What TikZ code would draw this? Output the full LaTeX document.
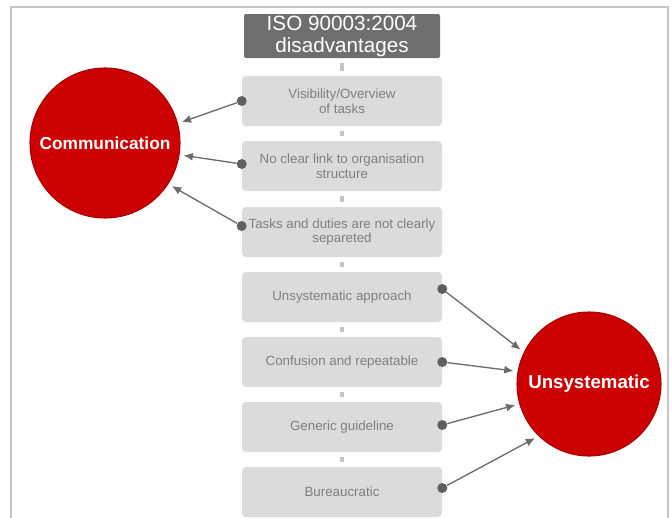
\documentclass[tikz,border=0pt]{standalone}
\usepackage{fontspec}
\setmainfont{Liberation Sans}
\usetikzlibrary{arrows.meta}

\definecolor{titlegray}{HTML}{6E6E6E}
\definecolor{boxgray}{HTML}{DBDBDB}
\definecolor{textgray}{HTML}{7F7F7F}
\definecolor{linkgray}{HTML}{C4C4C4}
\definecolor{dotgray}{HTML}{5F5F5F}
\definecolor{arrgray}{HTML}{6B6B6B}
\definecolor{bubblered}{HTML}{CC0000}
\definecolor{bubbleedge}{HTML}{A50000}
\definecolor{framegray}{HTML}{C4C4C4}

\tikzset{
  titlebox/.style={fill=titlegray, text=white, rounded corners=1.5pt, minimum width=147pt,
    minimum height=33pt, inner sep=0pt, align=center, font=\fontsize{15.5}{16.5}\selectfont},
  taskbox/.style={fill=boxgray, text=textgray, rounded corners=3pt, minimum width=150pt,
    minimum height=37.5pt, inner sep=0pt, align=center, font=\fontsize{10}{11}\selectfont},
  link/.style={draw=linkgray, line width=3.5pt, shorten <=3.9pt, shorten >=3.9pt},
  dot/.style={circle, fill=dotgray, inner sep=0pt, minimum size=7.5pt},
  arr/.style={draw=arrgray, line width=1pt, -{Latex[length=7pt,width=6pt]}, shorten >=3pt},
  bubble/.style={circle, fill=bubblered, draw=bubbleedge, line width=0.8pt, text=white,
    font=\bfseries, inner sep=0pt}
}

\begin{document}
\begin{tikzpicture}[x=0.75pt, y=-0.75pt]
    \useasboundingbox (0,0) rectangle (672,518);
    \draw[framegray, line width=1pt] (11,518) -- (11,7) -- (668,7) -- (668,518);

    % title and the task boxes
    \node[titlebox] (t) at (342,36) {ISO 90003:2004\\disadvantages};
    \node[taskbox] (b1) at (342,101) {Visibility/Overview\\of tasks};
    \node[taskbox] (b2) at (342,166) {No clear link to organisation\\structure};
    \node[taskbox] (b3) at (342,232) {Tasks and duties are not clearly\\separeted};
    \node[taskbox] (b4) at (342,297) {Unsystematic approach};
    \node[taskbox] (b5) at (342,362) {Confusion and repeatable};
    \node[taskbox] (b6) at (342,427) {Generic guideline};
    \node[taskbox] (b7) at (342,492) {Bureaucratic};

    \draw[link] (t) -- (b1);
    \draw[link] (b1) -- (b2);
    \draw[link] (b2) -- (b3);
    \draw[link] (b3) -- (b4);
    \draw[link] (b4) -- (b5);
    \draw[link] (b5) -- (b6);
    \draw[link] (b6) -- (b7);

    % the two bubbles
    \node[bubble, minimum size=112.5pt, font=\bfseries\fontsize{13}{15}\selectfont] (comm) at (105,143) {Communication};
    \node[bubble, minimum size=108pt, font=\bfseries\fontsize{14}{16}\selectfont] (unsys) at (589,384) {Unsystematic};

    \node[dot] (d1) at (b1.west) {};
    \node[dot] (d2) at ([yshift=1.5pt]b2.west) {};
    \node[dot] (d3) at ([yshift=4.5pt]b3.west) {};
    \node[dot] (d4) at ([yshift=6pt]b4.east) {};
    \node[dot] (d5) at (b5.east) {};
    \node[dot] (d6) at ([yshift=1.5pt]b6.east) {};
    \node[dot] (d7) at ([yshift=3pt]b7.east) {};

    \draw[arr] (d1) -- (comm.15);
    \draw[arr] (d2) -- (comm.-9);
    \draw[arr] (d3) -- (comm.-33);
    \draw[arr] (d4) -- (unsys.154);
    \draw[arr] (d5) -- (unsys.170);
    \draw[arr] (d6) -- (unsys.196);
    \draw[arr] (d7) -- (unsys.226);

\end{tikzpicture}
\end{document}
